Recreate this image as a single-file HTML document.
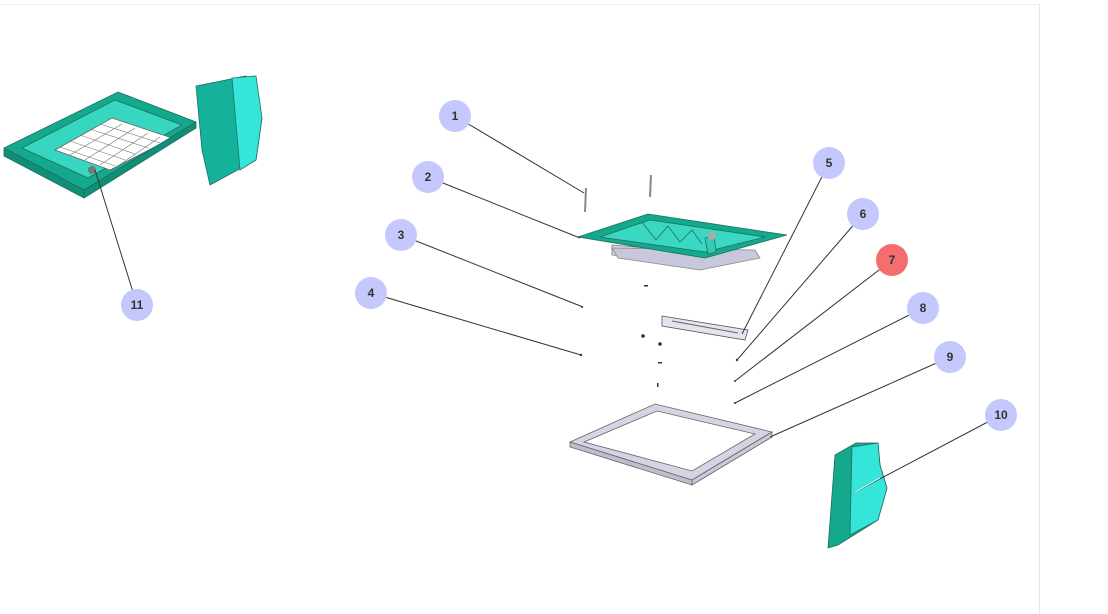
<!DOCTYPE html>
<html><head><meta charset="utf-8"><style>
html,body{margin:0;padding:0;background:#fff;width:1108px;height:614px;overflow:hidden}
text{font-family:"Liberation Sans",sans-serif;font-size:12px;font-weight:bold;fill:#333}
</style></head><body>
<svg width="1108" height="614" viewBox="0 0 1108 614" xmlns="http://www.w3.org/2000/svg">
<line x1="0" y1="4.5" x2="1039" y2="4.5" stroke="#eee"/>
<line x1="1039.5" y1="4" x2="1039.5" y2="614" stroke="#e8e8e8"/>

<!-- left assembly -->
<g stroke="#1f6f5f" stroke-width="0.8">
<polygon points="4,148 118,92 196,122 84,190" fill="#14a88c"/>
<polygon points="22,148 115,100 182,125 88,178" fill="#36d6c0"/>
<polygon points="55,150 112,118 172,138 110,170" fill="#fff" stroke="#666"/>
<g stroke="#777" stroke-width="0.6">
<line x1="60" y1="147" x2="115" y2="166"/><line x1="70" y1="141" x2="125" y2="160"/><line x1="80" y1="135" x2="135" y2="154"/><line x1="90" y1="129" x2="148" y2="148"/><line x1="100" y1="124" x2="160" y2="143"/>
<line x1="70" y1="155" x2="122" y2="124"/><line x1="85" y1="160" x2="135" y2="128"/><line x1="100" y1="165" x2="148" y2="133"/><line x1="115" y1="168" x2="160" y2="137"/>
</g>
<polygon points="4,148 84,190 84,198 4,156" fill="#0f8f78"/>
<polygon points="84,190 196,122 196,128 84,198" fill="#0f8f78"/>
<polygon points="196,86 246,76 262,118 256,160 210,185 202,150" fill="#14b29a"/>
<polygon points="232,78 256,76 262,118 256,160 240,170" fill="#35e5da"/>
</g>
<circle cx="92" cy="170" r="4" fill="#777"/>

<!-- center top tray -->
<g stroke="#1f6f5f" stroke-width="0.8">
<polygon points="612,245 700,252 700,262 612,255" fill="#d8d8e8" stroke="#777"/>
<polygon points="612,248 618,258 700,270 760,258 755,250" fill="#c8c8dc" stroke="#888"/>
<polygon points="578,237 648,214 787,235 705,258" fill="#14a88c"/>
<polygon points="600,237 650,220 765,237 705,252" fill="#3ad8c2"/>
<polyline points="642,222 656,240 668,226 680,242 692,230 702,244" fill="none" stroke="#1f6f5f"/>
<polygon points="705,238 714,236 716,252 708,254" fill="#36c9b4"/>
</g>
<circle cx="712" cy="236" r="4" fill="#aaa"/>
<line x1="586" y1="188" x2="585" y2="212" stroke="#888" stroke-width="2"/>
<line x1="651" y1="175" x2="650" y2="197" stroke="#888" stroke-width="2"/>

<!-- bar 5 -->
<polygon points="662,316 748,330 745,340 662,326" fill="#e4e4ee" stroke="#555" stroke-width="0.8"/>
<line x1="672" y1="321" x2="738" y2="333" stroke="#666" stroke-width="1"/>
<!-- small parts -->
<g fill="#333">
<rect x="644" y="285" width="4" height="1.5"/><circle cx="643" cy="336" r="1.8"/><circle cx="660" cy="344" r="1.8"/>
<rect x="658" y="362" width="4" height="1.5"/><rect x="657" y="383" width="1.5" height="4"/>
<circle cx="582" cy="307" r="1"/><circle cx="581" cy="355" r="1.2"/>
<circle cx="737" cy="360" r="1.2"/><circle cx="735" cy="381" r="1"/><circle cx="735" cy="403" r="1"/>
</g>

<!-- frame 9 -->
<g stroke="#666" stroke-width="0.8">
<polygon points="570,442 655,404 772,432 692,480" fill="#d4d4e4"/>
<polygon points="584,442 657,411 755,434 692,471" fill="#fff"/>
<polygon points="570,442 692,480 692,485 570,447" fill="#bdbdcf"/>
<polygon points="692,480 772,432 772,437 692,485" fill="#c8c8da"/>
</g>

<!-- part 10 -->
<g stroke="#1f6f5f" stroke-width="0.8">
<polygon points="835,455 856,443 878,443 880,465 887,488 878,520 838,545 828,548" fill="#14a88c"/>
<polygon points="852,447 878,443 880,465 887,488 878,520 850,535" fill="#35e5da"/>
</g>

<!-- leader lines -->
<g stroke="#333" stroke-width="1">
<line x1="455" y1="116" x2="584" y2="193"/>
<line x1="428" y1="177" x2="580" y2="238"/>
<line x1="401" y1="235" x2="583" y2="307"/>
<line x1="371" y1="293" x2="581" y2="355"/>
<line x1="829" y1="163" x2="742" y2="334"/>
<line x1="863" y1="214" x2="737" y2="360"/>
<line x1="892" y1="260" x2="735" y2="381"/>
<line x1="923" y1="308" x2="735" y2="403"/>
<line x1="950" y1="357" x2="770" y2="437"/>
<line x1="1001" y1="415" x2="855" y2="492"/>
<line x1="137" y1="305" x2="95" y2="170"/>
</g>
<line x1="880" y1="478" x2="855" y2="492" stroke="#fff" stroke-width="1"/>

<!-- bubbles -->
<g fill="#c5c8fc">
<circle cx="455" cy="116" r="16"/><circle cx="428" cy="177" r="16"/><circle cx="401" cy="235" r="16"/><circle cx="371" cy="293" r="16"/>
<circle cx="829" cy="163" r="16"/><circle cx="863" cy="214" r="16"/><circle cx="923" cy="308" r="16"/><circle cx="950" cy="357" r="16"/>
<circle cx="1001" cy="415" r="16"/><circle cx="137" cy="305" r="16"/>
</g>
<circle cx="892" cy="260" r="16" fill="#f56e6e"/>
<g text-anchor="middle">
<text x="455" y="120">1</text><text x="428" y="181">2</text><text x="401" y="239">3</text><text x="371" y="297">4</text>
<text x="829" y="167">5</text><text x="863" y="218">6</text><text x="892" y="264">7</text><text x="923" y="312">8</text>
<text x="950" y="361">9</text><text x="1001" y="419">10</text><text x="137" y="309">11</text>
</g>
</svg>
</body></html>
